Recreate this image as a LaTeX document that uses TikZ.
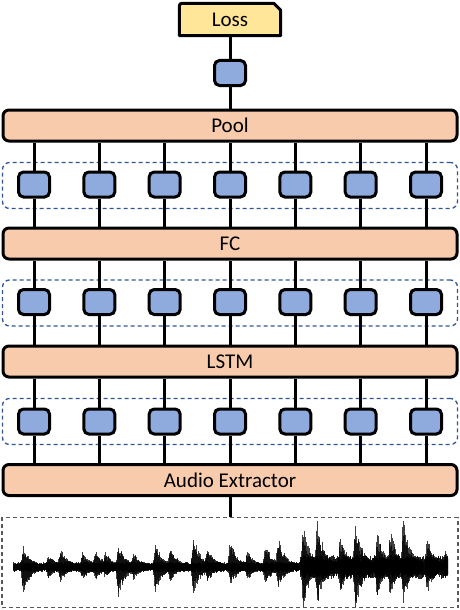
\documentclass[tikz,border=0pt]{standalone}
\usepackage{fontspec}
\setmainfont{Carlito}
\usetikzlibrary{calc,backgrounds}
\definecolor{barfill}{HTML}{F8CBAD}
\definecolor{boxfill}{HTML}{8FAADC}
\definecolor{lossfill}{HTML}{FFE699}
\definecolor{grpline}{HTML}{2F5597}
\definecolor{wavegray}{HTML}{595959}
\begin{document}
\begin{tikzpicture}[x=1pt,y=-1pt,
  lbl/.style={font=\fontsize{21}{25}\selectfont},
  bar/.style={lbl,draw=black,line width=3pt,fill=barfill,rounded corners=6pt,minimum width=454pt,minimum height=31pt,inner sep=0pt},
  cell/.style={draw=black,line width=3pt,fill=boxfill,rounded corners=5pt,minimum width=31pt,minimum height=25pt,inner sep=0pt},
  grp/.style={draw=grpline,line width=1.3pt,dash pattern=on 4pt off 3pt,rounded corners=7pt,minimum width=455pt,minimum height=46pt,inner sep=0pt},
  wavebox/.style={draw=wavegray,line width=1.5pt,dash pattern=on 4pt off 3pt,minimum width=456pt,minimum height=90pt,inner sep=0pt},
  lossbox/.style={lbl,minimum width=101pt,minimum height=32pt,inner sep=0pt},
  wire/.style={line width=3pt,black},
  ]
\useasboundingbox (0,0) rectangle (460,610);

% groups
\node[grp] (g1) at (230,185.5) {};
\node[grp] (g2) at (230,303) {};
\node[grp] (g3) at (230,421.5) {};

% bars
\node[bar] (pool) at (230,125.5) {Pool};
\node[bar] (fc) at (230,243.5) {FC};
\node[bar] (lstm) at (230,361.5) {LSTM};
\node[bar] (audio) at (230,480) {Audio Extractor};

% loss
\node[lossbox] (loss) at (230,19.5) {Loss};
\begin{pgfonlayer}{background}
\draw[line width=3pt,fill=lossfill,line join=round]
  (loss.south west) -- ($(loss.north west)+(0,6)$) .. controls (loss.north west) .. ($(loss.north west)+(6,0)$)
  -- ($(loss.north east)+(-7,0)$) -- ($(loss.north east)+(0,7)$) -- (loss.south east) -- cycle;
\end{pgfonlayer}

\node[cell] (b0) at (230,73) {};
\draw[wire] (loss.south) -- (b0.north);
\draw[wire] (b0.south) -- (pool.north);

\foreach \i in {1,...,7} {
  \pgfmathsetmacro{\xx}{34+65.333*(\i-1)}
  \node[cell] (r1-\i) at (\xx,184.5) {};
  \node[cell] (r2-\i) at (\xx,302) {};
  \node[cell] (r3-\i) at (\xx,421.5) {};
  \draw[wire] (r1-\i.north) -- (r1-\i.north |- pool.south);
  \draw[wire] (r1-\i.south) -- (r1-\i.south |- fc.north);
  \draw[wire] (r2-\i.north) -- (r2-\i.north |- fc.south);
  \draw[wire] (r2-\i.south) -- (r2-\i.south |- lstm.north);
  \draw[wire] (r3-\i.north) -- (r3-\i.north |- lstm.south);
  \draw[wire] (r3-\i.south) -- (r3-\i.south |- audio.north);
}

% waveform box
\node[wavebox] (wave) at (230,562.5) {};
\draw[wire] (audio.south) -- (wave.north);

% waveform
\begin{scope}
\clip (12,520) rectangle (448,606);
\pgfmathsetseed{7}
\foreach \x in {13,13.5,...,447} {
  \pgfmathsetmacro{\amp}{(\x<300)?5:12}
  \pgfmathsetmacro{\bu}{\amp*(0.5+0.5*rnd)}
  \pgfmathsetmacro{\bd}{\amp*(0.5+0.5*rnd)}
  \draw[line width=0.8pt,opacity=0.85] (\x,567-\bu) -- (\x,567+\bd);
}
\foreach \xo/\au/\ad in {23/20/27,48/12/10,60/18/14,82/14/12,95/17/12,105/14/10,118/22/30,133/13/12,155/23/25,170/18/14,193/32/28,207/20/14,230/25/18,247/15/12,265/25/18,278/30/20,303/40/40,317/48/40,340/30/25,355/48/45,377/35/30,390/38/30,403/48/35,427/30/25,445/15/12} {
  \foreach \t in {-2,-1.5,...,20} {
    \pgfmathsetmacro{\e}{(\t<0)?(1+\t/2.5):exp(-\t/7)}
    \pgfmathsetmacro{\u}{\au*\e*(0.5+0.5*rnd)+2}
    \pgfmathsetmacro{\d}{\ad*\e*(0.5+0.5*rnd)+2}
    \draw[line width=0.8pt,opacity=0.75] (\xo+\t,567-\u) -- (\xo+\t,567+\d);
  }
}
\end{scope}
\end{tikzpicture}
\end{document}
